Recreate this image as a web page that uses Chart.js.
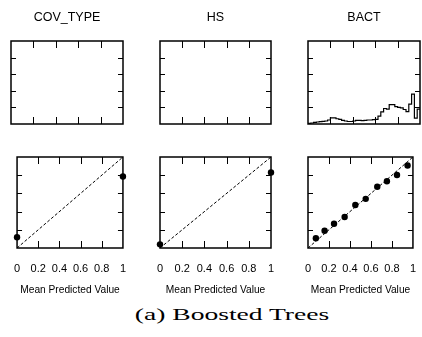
<!DOCTYPE html>
<html>
<head>
<meta charset="utf-8">
<script src="https://cdn.jsdelivr.net/npm/chart.js@4.4.0/dist/chart.umd.min.js"></script>
<style>
html, body { margin: 0; padding: 0; width: 422px; height: 337px; overflow: hidden; background: #fff; }
canvas { position: absolute; }
#caption { position: absolute; left: 132px; top: 305px; width: 200px; text-align: center; }
#caption span { display: inline-block; font-family: 'Liberation Serif', serif; font-size: 17px; color: #000;
  transform: scaleX(1.62); transform-origin: center; white-space: nowrap; }
</style>
</head>
<body>
<canvas id="t1" width="140" height="130" style="left:0;top:0"></canvas>
<canvas id="t2" width="150" height="130" style="left:140px;top:0"></canvas>
<canvas id="t3" width="140" height="130" style="left:290px;top:0"></canvas>
<canvas id="b1" width="140" height="150" style="left:0;top:150px"></canvas>
<canvas id="b2" width="150" height="150" style="left:140px;top:150px"></canvas>
<canvas id="b3" width="140" height="150" style="left:290px;top:150px"></canvas>
<div id="caption"><span>(a) Boosted Trees</span></div>
<script>
var titles = ['COV_TYPE', 'HS', 'BACT'];
var xLabel = 'Mean Predicted Value';
var tickVals = [0.2, 0.4, 0.6, 0.8];

// BACT histogram of predicted values (bin left edges, heights)
var histEdges = [0, 0.025, 0.05, 0.075, 0.1, 0.125, 0.15, 0.175, 0.2, 0.225,
  0.25, 0.275, 0.3, 0.325, 0.35, 0.375, 0.4, 0.425, 0.45, 0.475,
  0.5, 0.525, 0.55, 0.575, 0.6, 0.625, 0.65, 0.675, 0.7, 0.725,
  0.75, 0.775, 0.8, 0.825, 0.85, 0.875, 0.9, 0.925, 0.95, 0.975, 1];
var histVals = [0.008, 0.012, 0.02, 0.024, 0.028, 0.032, 0.036, 0.048, 0.075, 0.075,
  0.063, 0.056, 0.044, 0.036, 0.03, 0.03, 0.036, 0.044, 0.044, 0.04,
  0.044, 0.048, 0.048, 0.052, 0.056, 0.095, 0.147, 0.187, 0.18, 0.234,
  0.234, 0.21, 0.2, 0.195, 0.175, 0.15, 0.24, 0.36, 0.07, 0.18, 0.18];

// reliability points
var covPred = [0, 1];
var covFrac = [0.118, 0.786];
var hsPred = [0, 1];
var hsFrac = [0.04, 0.83];
var bactPred = [0.075, 0.158, 0.248, 0.349, 0.451, 0.55, 0.66, 0.752, 0.848, 0.949];
var bactFrac = [0.107, 0.189, 0.267, 0.34, 0.473, 0.54, 0.673, 0.733, 0.803, 0.907];
var diagX = [0, 1];
var diagY = [0, 1];

var sans = "'Liberation Sans', Arial, sans-serif";

function pts(xs, ys) {
  return xs.map(function(x, i) { return {x: x, y: ys[i]}; });
}

var framePlugin = {
  id: 'frame',
  afterDatasetsDraw: function(chart) {
    var ctx = chart.ctx, a = chart.chartArea;
    var xs = chart.scales.x, ys = chart.scales.y;
    ctx.save();
    ctx.strokeStyle = '#000';
    ctx.lineWidth = 1.5;
    ctx.strokeRect(a.left, a.top, a.right - a.left, a.bottom - a.top);
    ctx.lineWidth = 1;
    ctx.beginPath();
    tickVals.forEach(function(v) {
      var px = Math.round(xs.getPixelForValue(v)) + 0.5;
      ctx.moveTo(px, a.bottom); ctx.lineTo(px, a.bottom - 7);
      ctx.moveTo(px, a.top); ctx.lineTo(px, a.top + 7);
      var py = Math.round(ys.getPixelForValue(v)) + 0.5;
      ctx.moveTo(a.left, py); ctx.lineTo(a.left + 5, py);
      ctx.moveTo(a.right, py); ctx.lineTo(a.right - 5, py);
    });
    ctx.stroke();
    ctx.restore();
  }
};

function topChart(id, title, padL, padR, datasets) {
  return new Chart(document.getElementById(id), {
    type: 'scatter',
    data: { datasets: datasets },
    options: {
      responsive: false,
      animation: false,
      layout: { padding: { left: padL, right: padR, top: 0, bottom: 6 } },
      scales: {
        x: { type: 'linear', min: 0, max: 1, display: false },
        y: { type: 'linear', min: 0, max: 1, display: false }
      },
      plugins: {
        legend: { display: false },
        tooltip: { enabled: false },
        title: { display: true, text: title, color: '#000',
          font: { family: sans, size: 12.5, weight: 'normal' },
          padding: { top: 10, bottom: 16 } }
      }
    },
    plugins: [framePlugin]
  });
}

function bottomChart(id, padL, padR, xs, ys) {
  return new Chart(document.getElementById(id), {
    type: 'scatter',
    data: {
      datasets: [{
        data: pts(diagX, diagY),
        showLine: true,
        borderColor: '#000',
        borderWidth: 1,
        borderDash: [3, 2],
        pointRadius: 0
      }, {
        data: pts(xs, ys),
        pointRadius: 3.2,
        pointBackgroundColor: '#000',
        pointBorderWidth: 0,
        clip: false
      }]
    },
    options: {
      responsive: false,
      animation: false,
      layout: { padding: { left: padL, right: padR, top: 7, bottom: 0 } },
      scales: {
        x: {
          type: 'linear', min: 0, max: 1,
          grid: { display: false, drawTicks: false },
          border: { display: false },
          ticks: { stepSize: 0.2, maxRotation: 0, autoSkip: false, padding: 14, color: '#000',
            font: { family: sans, size: 11 },
            callback: function(v) { return String(Math.round(v * 10) / 10); } },
          title: { display: true, text: xLabel, color: '#000',
            font: { family: sans, size: 10.2 }, padding: { top: 0, bottom: 4 } },
          afterFit: function(s) { s.height = 52; }
        },
        y: { type: 'linear', min: 0, max: 1, display: false }
      },
      plugins: { legend: { display: false }, tooltip: { enabled: false } }
    },
    plugins: [framePlugin]
  });
}

topChart('t1', titles[0], 11, 17, []);
topChart('t2', titles[1], 20, 19, []);
topChart('t3', titles[2], 18, 10, [{
  data: pts(histEdges, histVals),
  showLine: true,
  stepped: true,
  borderColor: '#000',
  borderWidth: 1.2,
  pointRadius: 0
}]);

bottomChart('b1', 11, 17, covPred, covFrac);
bottomChart('b2', 20, 19, hsPred, hsFrac);
bottomChart('b3', 18, 10, bactPred, bactFrac);
</script>
</body>
</html>
